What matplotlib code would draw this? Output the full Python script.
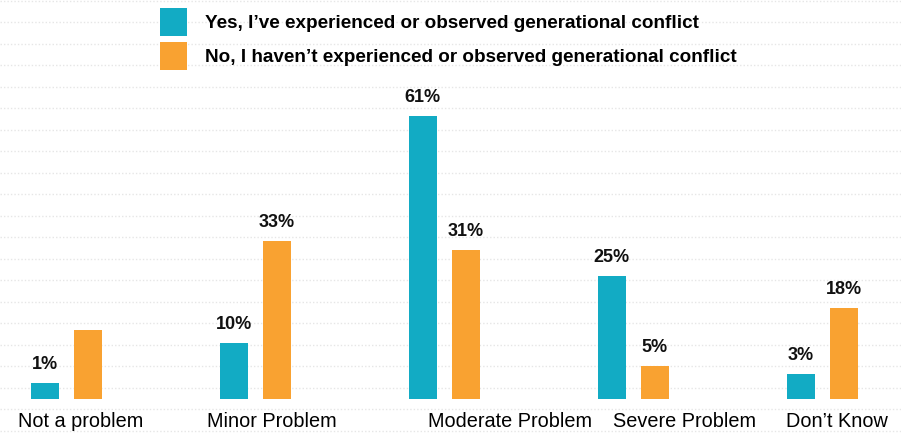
import matplotlib
matplotlib.use("Agg")
import matplotlib.pyplot as plt
from matplotlib.patches import Patch
from matplotlib.ticker import MultipleLocator
import numpy as np

# data
categories = ["Not a problem", "Minor Problem", "Moderate Problem", "Severe Problem", "Don\u2019t Know"]
yes_vals = [1, 10, 61, 25, 3]
no_vals = [13, 33, 31, 5, 18]
yes_labels = ["1%", "10%", "61%", "25%", "3%"]
no_labels = ["", "33%", "31%", "5%", "18%"]
series_names = ["Yes, I\u2019ve experienced or observed generational conflict",
                "No, I haven\u2019t experienced or observed generational conflict"]

# style / layout
TEAL = "#12ABC4"
ORANGE = "#F9A231"
FONT = "Liberation Sans"
BASE = 2.5            # bars start a little below zero in the original
label_dx = [-48, -48, -16, -20, -37]   # category label left offsets (px)

plt.rcParams["font.family"] = [FONT, "DejaVu Sans"]

fig = plt.figure(figsize=(9.01, 4.34), dpi=100)
ax = fig.add_axes([0, 0, 1, 1])
ax.set_xlim(-0.3496, 4.415)
ax.set_ylim(-10.35, 86.96)

x = np.arange(len(categories))
off = 0.1137
w = 0.148

yes = np.array(yes_vals, dtype=float)
no = np.array(no_vals, dtype=float)
b1 = ax.bar(x - off, yes + BASE, bottom=-BASE, width=w, color=TEAL, zorder=2)
b2 = ax.bar(x + off, no + BASE, bottom=-BASE, width=w, color=ORANGE, zorder=2)

for rects, labs in ((b1, yes_labels), (b2, no_labels)):
    for r, lab in zip(rects, labs):
        if not lab:
            continue
        ax.annotate(lab, (r.get_x() + r.get_width() / 2, r.get_y() + r.get_height()),
                    xytext=(0, 10), textcoords="offset pixels",
                    ha="center", va="bottom", fontsize=13, fontweight="bold",
                    color="#111111")

for i, cat in enumerate(categories):
    ax.annotate(cat, (x[i], -BASE), xytext=(label_dx[i], -23),
                textcoords="offset pixels", ha="left", va="center",
                fontsize=14.3, color="#000000")

# faint dotted background rules
ax.yaxis.set_major_locator(MultipleLocator(4.82))
ax.grid(axis="y", color="#e6e6e6", linestyle=(0, (1, 1.5)), linewidth=1)
ax.set_axisbelow(True)
ax.tick_params(left=False, bottom=False, labelleft=False, labelbottom=False)
for s in ax.spines.values():
    s.set_visible(False)

handles = [Patch(facecolor=TEAL), Patch(facecolor=ORANGE)]
leg = fig.legend(handles, series_names, loc="upper left",
                 bbox_to_anchor=(160 / 901, 1 - 8 / 434), frameon=False,
                 borderpad=0, borderaxespad=0,
                 prop={"size": 13.6, "weight": "bold"},
                 handlelength=1.44, handleheight=1.92, labelspacing=0.3,
                 handletextpad=0.96)

fig.savefig("out.png", dpi=100)
